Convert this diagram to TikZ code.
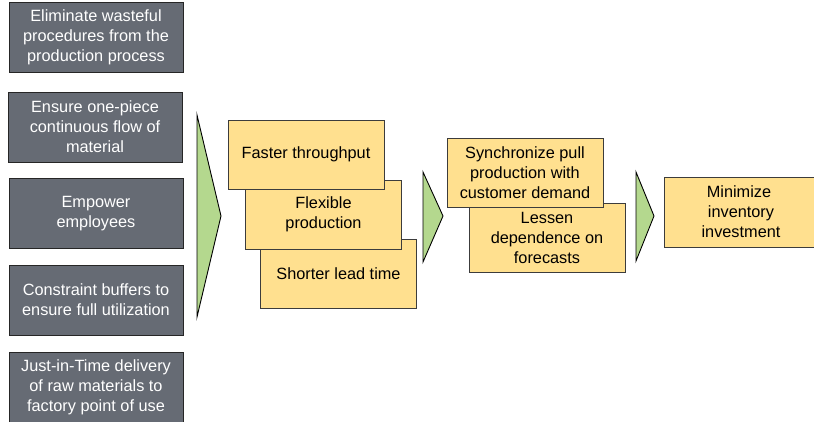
\documentclass[tikz,border=0pt]{standalone}
\usepackage{fontspec}
\setmainfont{Liberation Sans}
\definecolor{darkbox}{RGB}{102,107,116}
\definecolor{yellowbox}{RGB}{255,224,143}
\definecolor{greentri}{RGB}{180,216,142}
\definecolor{yborder}{RGB}{60,60,60}
\begin{document}
\begin{tikzpicture}[x=1pt,y=-1pt,
  darknode/.style={draw=black!85, line width=0.9pt, fill=darkbox, text=white, align=center,
    minimum width=174pt, minimum height=70pt, inner sep=0pt, font=\fontsize{16.3}{20}\selectfont},
  ynode/.style={draw=yborder, line width=0.9pt, fill=yellowbox, text=black, align=center,
    minimum width=156pt, minimum height=69pt, inner sep=0pt, font=\fontsize{16.3}{20}\selectfont},
  tri/.style={draw=black, line width=0.9pt, fill=greentri, line join=miter}]
\useasboundingbox (0,0) rectangle (814,421);
% left column
\node[darknode] (e1) at (96,37) {Eliminate wasteful\\procedures from the\\production process};
\node[darknode] (e2) at (95,127) {Ensure one-piece\\continuous flow of\\material};
\node[darknode] (e3) at (96,213.5) {Empower\\employees};
\node[darknode] (e4) at (96,300) {Constraint buffers to\\ensure full utilization};
\node[darknode] (e5) at (96,387) {Just-in-Time delivery\\of raw materials to\\factory point of use};
% arrow 1
\draw[tri] (197,115) -- (221,216) -- (197,317) -- cycle;
% middle stack
\node[ynode] (c) at (338.5,273.5) {Shorter lead time};
\node[ynode] (b) at (323.5,214.5) {Flexible\\production};
\node[ynode] (a) at (306,154.5) {Faster throughput};
% arrow 2
\draw[tri] (423,172) -- (443,216) -- (423,262) -- cycle;
% second stack
\node[ynode] (lessen) at (547,238) {Lessen\\dependence on\\forecasts};
\node[ynode] (sync) at (525,172.5) {Synchronize pull\\production with\\customer demand};
% arrow 3
\draw[tri] (636,172) -- (654,216) -- (636,261) -- cycle;
% result
\node[ynode, minimum width=154pt, minimum height=70pt] (m) at (741,212) {\hspace*{-4pt}Minimize\\inventory\\investment};
\end{tikzpicture}
\end{document}
